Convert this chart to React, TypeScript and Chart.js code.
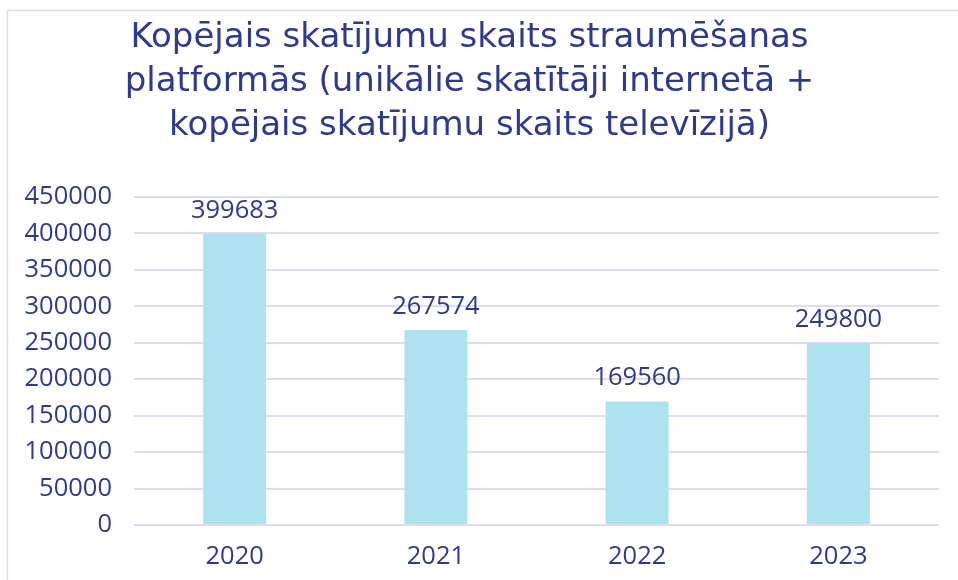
import React, { useEffect, useRef } from "react";
import { Chart, registerables } from "chart.js";

Chart.register(...registerables);

const categories = ["2020", "2021", "2022", "2023"];
const values = [399683, 267574, 169560, 249800];
const titleLines = [
  "Kopējais skatījumu skaits straumēšanas",
  "platformās (unikālie skatītāji internetā +",
  "kopējais skatījumu skaits televīzijā)",
];

const TEXT = "#2E3A8F";
const FONT = "'Open Sans', sans-serif";
const TITLE_FONT = "'DejaVu Sans', sans-serif";

const valueLabels = {
  id: "valueLabels",
  afterDatasetsDraw(chart: any) {
    const ctx = chart.ctx;
    const meta = chart.getDatasetMeta(0);
    ctx.save();
    ctx.fillStyle = TEXT;
    ctx.font = `25.5px ${FONT}`;
    ctx.textAlign = "center";
    ctx.textBaseline = "alphabetic";
    meta.data.forEach((bar: any, i: number) => {
      ctx.fillText(String(values[i]), bar.x, bar.y - 16);
    });
    ctx.restore();
  },
};

const frame = {
  id: "frame",
  beforeDraw(chart: any) {
    const ctx = chart.ctx;
    ctx.save();
    ctx.strokeStyle = "#D9DBF3";
    ctx.lineWidth = 1.5;
    ctx.strokeRect(7.5, 10.5, chart.width + 20, chart.height + 20);
    ctx.restore();
  },
};

export default function App() {
  const ref = useRef<HTMLCanvasElement>(null);
  useEffect(() => {
    if (!ref.current) return;
    const chart = new Chart(ref.current, {
      type: "bar",
      data: {
        labels: categories,
        datasets: [
          {
            data: values,
            backgroundColor: "#ADE3EF",
            borderWidth: 0,
            barPercentage: 0.313,
            categoryPercentage: 1,
          },
        ],
      },
      options: {
        animation: false,
        responsive: false,
        maintainAspectRatio: false,
        layout: { padding: { left: 0, right: 19, top: 0, bottom: 0 } },
        plugins: {
          legend: { display: false },
          tooltip: { enabled: false },
          title: {
            display: true,
            text: titleLines,
            color: TEXT,
            font: { family: TITLE_FONT, size: 34, weight: "normal", lineHeight: 44 / 34 },
            padding: { top: 16, bottom: 49 },
          },
        },
        scales: {
          x: {
            grid: { display: false },
            border: { display: false },
            ticks: { color: TEXT, font: { family: FONT, size: 25.5 }, padding: 8 },
            afterFit: (s: any) => {
              s.height = 55;
            },
          },
          y: {
            min: 0,
            max: 450000,
            grid: { color: "#DCDDF2", lineWidth: 2, drawTicks: false },
            border: { display: false },
            ticks: {
              stepSize: 50000,
              color: TEXT,
              font: { family: FONT, size: 25.5 },
              padding: 22,
              callback: (v: any) => String(v),
            },
            afterFit: (s: any) => {
              s.width = 134;
            },
          },
        },
      },
      plugins: [frame, valueLabels],
    });
    return () => chart.destroy();
  }, []);
  return (
    <div style={{ position: "absolute", left: 0, top: 0, width: 958, height: 580, background: "#fff" }}>
      <canvas ref={ref} width={958} height={580} style={{ display: "block" }} />
    </div>
  );
}
